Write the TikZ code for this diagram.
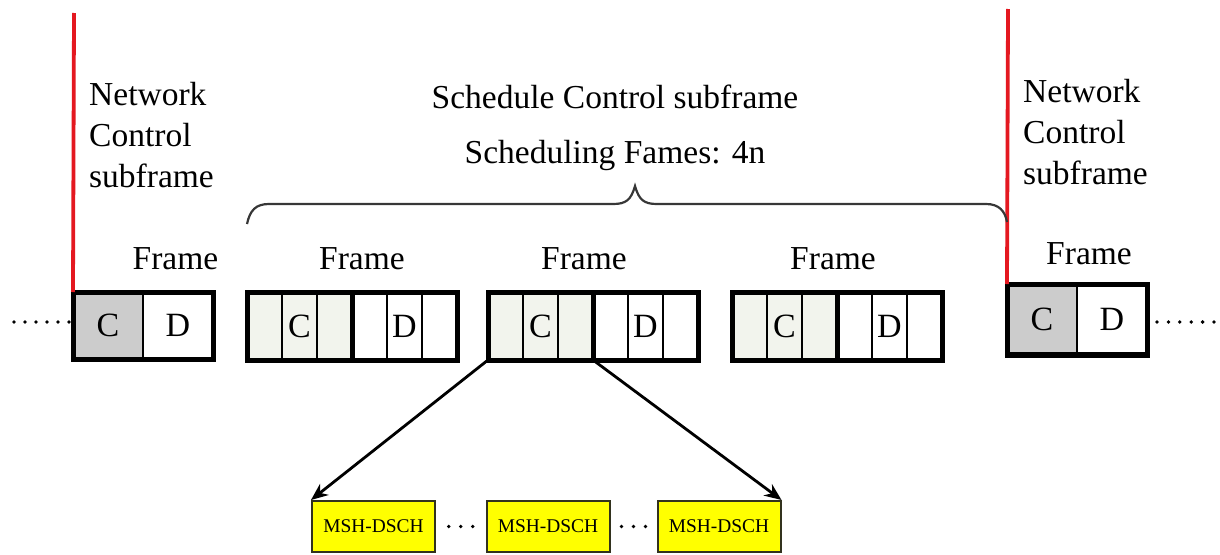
\documentclass[tikz,border=0pt]{standalone}
\usepackage{fontspec}
\setmainfont{Liberation Serif}
\usetikzlibrary{arrows.meta,calc}

\definecolor{ctrlfill}{RGB}{242,244,237}
\definecolor{ncfill}{RGB}{204,204,204}
\definecolor{ncred}{RGB}{228,24,32}
\definecolor{bracegray}{RGB}{55,55,55}
\definecolor{dschyellow}{RGB}{255,255,0}

\tikzset{
  cell/.style={draw=black, line width=2.2pt, minimum width=35pt, minimum height=68pt,
               inner sep=0pt, outer sep=0pt},
  nccell/.style={draw=black, line width=2.2pt, minimum width=70pt, minimum height=67pt,
               inner sep=0pt, outer sep=0pt},
  framebox/.style={draw=black, line width=5pt, inner sep=0pt, outer sep=0pt},
  middiv/.style={draw=black, line width=5pt},
  bigtext/.style={font=\fontsize{33.5}{41}\selectfont, inner sep=0pt},
  celltext/.style={font=\fontsize{34}{41}\selectfont, inner sep=0pt},
  redbar/.style={draw=ncred, line width=3.8pt},
  bracepath/.style={draw=bracegray, line width=2.2pt},
  dsch/.style={draw={rgb,255:red,50;green,50;blue,30}, line width=2pt, fill=dschyellow,
               minimum width=123pt, minimum height=51pt, inner sep=0pt,
               font=\fontsize{19.4}{22}\selectfont},
  fanarrow/.style={draw=black, line width=2.8pt, -{Stealth[length=17pt,width=14pt]}},
}

\begin{document}
\begin{tikzpicture}[x=1pt, y=-1pt]
\useasboundingbox (0,0) rectangle (1220,554);

% ---- network control subframe, left ----
\node[nccell, fill=ncfill] (f1c) at (108,325.5) {};
\node[nccell, fill=white] (f1d) at (178,325.5) {};
\node[framebox, minimum width=140pt, minimum height=67pt] (f1) at (143,325.5) {};
\node[celltext] at (f1c) {C};
\node[celltext] at (f1d) {D};
\coordinate (redLtop) at (74,13);
\draw[redbar] (redLtop) -- (f1.north west);
\node[bigtext, anchor=north west, align=left] (ncL) at (89,82) {Network\\Control\\subframe};
\node[bigtext, anchor=base] (frL) at (175.5,269) {Frame};
\coordinate (dotsL) at (14,322);
\foreach \j in {0,...,5} \fill ($(dotsL)+(11*\j,0)$) circle (1.9pt);

% ---- scheduling frames (three C slots, three D slots each) ----
\foreach \k/\L/\lx in {2/247/362, 3/488/584, 4/732/833}{
  \foreach \i in {0,...,5}{
    \ifnum\i<3
      \node[cell, fill=ctrlfill] (f\k c\i) at (\L+17.5+35*\i,326) {};
    \else
      \node[cell, fill=white] (f\k c\i) at (\L+17.5+35*\i,326) {};
    \fi
  }
  \node[framebox, minimum width=210pt, minimum height=68pt] (f\k) at (\L+105,326) {};
  \draw[middiv] (f\k.north) -- (f\k.south);
  \node[celltext] at (f\k c1) {C};
  \node[celltext] at (f\k c4) {D};
  \node[bigtext, anchor=base] (fr\k) at (\lx,269) {Frame};
}

% ---- network control subframe, right ----
\node[nccell, fill=ncfill] (f5c) at (1042,319.5) {};
\node[nccell, fill=white] (f5d) at (1112,319.5) {};
\node[framebox, minimum width=140pt, minimum height=71pt] (f5) at (1077,319.5) {};
\node[celltext] at (f5c) {C};
\node[celltext] at (f5d) {D};
\coordinate (redRtop) at (1008,9);
\draw[redbar] (redRtop) -- (f5.north west);
\node[bigtext, anchor=north west, align=left] (ncR) at (1023,79) {Network\\Control\\subframe};
\node[bigtext, anchor=base] (frR) at (1089,264) {Frame};
\coordinate (dotsR) at (1157,322);
\foreach \j in {0,...,5} \fill ($(dotsR)+(11.4*\j,0)$) circle (1.9pt);

% ---- schedule control subframe label and brace ----
\node[bigtext, anchor=base] (sched) at (615,108) {Schedule Control subframe};
\node[bigtext, anchor=base] (nframes) at (615,163) {Scheduling Fames: 4n};
\draw[bracepath] (247,224) .. controls (250,210) and (256,204) .. (269,204)
  -- (613,204) .. controls (626,204) and (631,200) .. (635,186)
  .. controls (639,200) and (644,204) .. (657,204)
  -- (986,204) .. controls (999,204) and (1005,211) .. (1007,222);

% ---- MSH-DSCH messages inside one control subframe ----
\node[dsch] (m1) at (373.5,526.5) {MSH-DSCH};
\node[dsch] (m2) at (548,526.5) {MSH-DSCH};
\node[dsch] (m3) at (719,526.5) {MSH-DSCH};
\coordinate (gap1) at ($(m1.east)!0.5!(m2.west)$);
\coordinate (gap2) at ($(m2.east)!0.5!(m3.west)$);
\foreach \g in {gap1,gap2}
  \foreach \j in {-1,0,1} \fill ($(\g)+(12*\j,0)$) circle (1.9pt);

\draw[fanarrow] (f3.south west) -- (m1.north west);
\draw[fanarrow] (f3c3.south west) -- (m3.north east);
\end{tikzpicture}
\end{document}
